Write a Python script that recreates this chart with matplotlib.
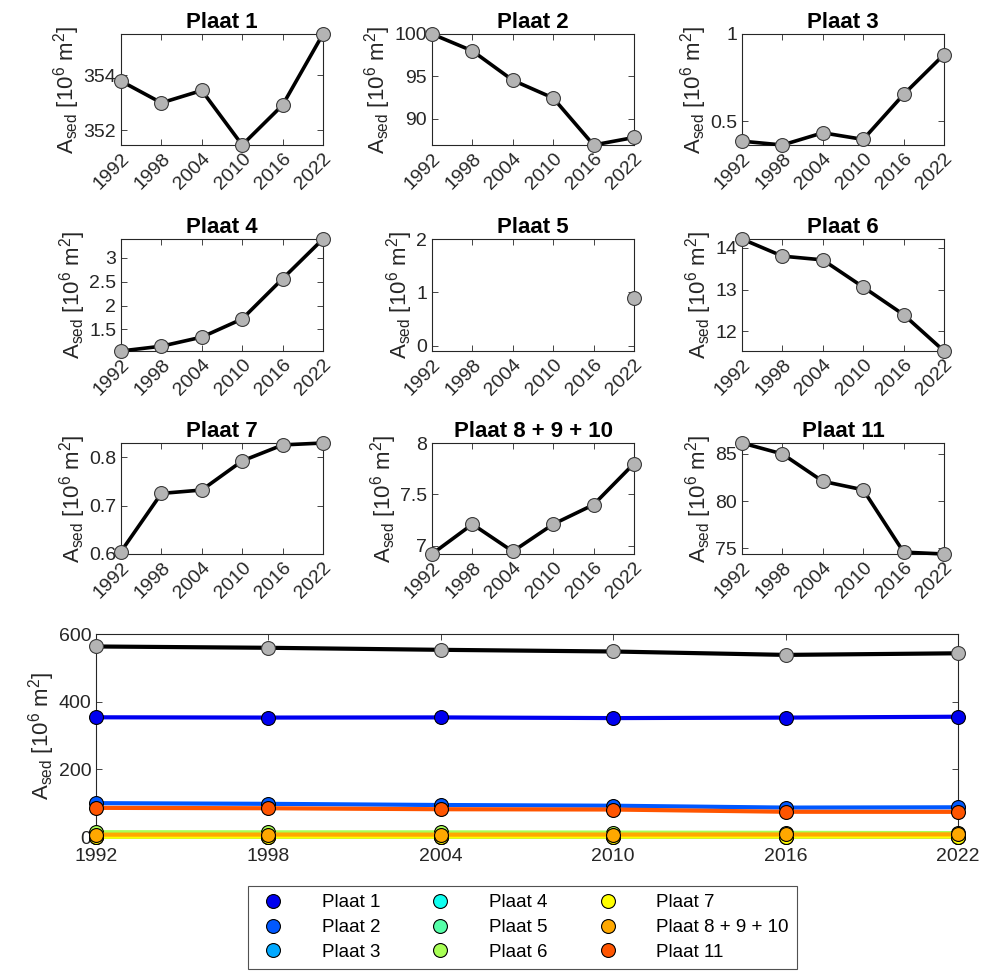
import numpy as np
import matplotlib.pyplot as plt
from matplotlib.lines import Line2D
from matplotlib.ticker import FuncFormatter

# =========================================================
# DATA (A_sed in 10^6 m^2)
# =========================================================
jaren = [1992, 1998, 2004, 2010, 2016, 2022]
namen = ["Plaat 1", "Plaat 2", "Plaat 3", "Plaat 4", "Plaat 5", "Plaat 6",
         "Plaat 7", "Plaat 8 + 9 + 10", "Plaat 11"]

plaat_1 = [353.79, 353.0, 353.45, 351.47, 352.92, 355.5]
plaat_2 = [100.0, 98.0, 94.53, 92.43, 86.88, 87.77]
plaat_3 = [0.385, 0.363, 0.433, 0.395, 0.653, 0.882]
plaat_4 = [1.05, 1.15, 1.34, 1.72, 2.56, 3.39]
plaat_5 = [np.nan, np.nan, np.nan, np.nan, np.nan, 0.90]
plaat_6 = [14.21, 13.80, 13.71, 13.06, 12.40, 11.53]
plaat_7 = [0.605, 0.725, 0.732, 0.792, 0.825, 0.829]
plaat_8_9_10 = [6.92, 7.21, 6.945, 7.21, 7.40, 7.80]
plaat_11 = [86.16, 85.0, 82.1, 81.2, 74.6, 74.4]

yticks_1 = [352, 354]
yticks_2 = [90, 95, 100]
yticks_3 = [0.5, 1]
yticks_4 = [1.5, 2, 2.5, 3]
yticks_5 = [0, 1, 2]
yticks_6 = [12, 13, 14]
yticks_7 = [0.6, 0.7, 0.8]
yticks_8 = [7, 7.5, 8]
yticks_11 = [75, 80, 85]
yticks_totaal = [0, 200, 400, 600]

reeksen = [plaat_1, plaat_2, plaat_3, plaat_4, plaat_5, plaat_6,
           plaat_7, plaat_8_9_10, plaat_11]
yticks = [yticks_1, yticks_2, yticks_3, yticks_4, yticks_5, yticks_6,
          yticks_7, yticks_8, yticks_11]
totaal = np.nansum(np.array(reeksen, dtype=float), axis=0)

# =========================================================
# STIJL
# =========================================================
plt.rcParams["font.family"] = ["Liberation Sans", "DejaVu Sans"]
plt.rcParams["mathtext.default"] = "regular"

kleuren = ["#0000f0", "#0058ff", "#00a8ff", "#10fff0", "#55ffa8",
           "#a8ff55", "#ffff00", "#ffa800", "#ff5500"]
grijs_as = "#262626"
ylabel = r"A$_{sed}$ [10$^{6}$ m$^{2}$]"

W, H = 985, 972
fig = plt.figure(figsize=(W / 100, H / 100), dpi=100)


def as_px(x0, y0, x1, y1):
    return fig.add_axes([x0 / W, 1 - y1 / H, (x1 - x0) / W, (y1 - y0) / H])


def stijl_as(ax):
    for s in ax.spines.values():
        s.set_color(grijs_as)
        s.set_linewidth(0.8)
    ax.tick_params(direction="in", top=True, right=True, colors=grijs_as,
                   labelsize=14, length=4, width=0.6)


fmt_g = FuncFormatter(lambda v, p: f"{v:g}")

kolommen = [(121, 323), (432, 634), (742, 944)]
rijen = [(34, 145), (239, 351), (443, 554)]

for i, (naam, waarden) in enumerate(zip(namen, reeksen)):
    x0, x1 = kolommen[i % 3]
    y0, y1 = rijen[i // 3]
    ax = as_px(x0, y0, x1, y1)
    ax.plot(jaren, waarden, color="black", linewidth=2.6, marker="o",
            markersize=10, markerfacecolor="#b4b4b4", markeredgecolor="#3a3a3a",
            markeredgewidth=0.8, clip_on=False, zorder=3)
    ax.set_xlim(1992, 2022)
    ax.set_xticks(jaren)
    ax.set_xticklabels([str(j) for j in jaren], rotation=45, ha="right",
                       rotation_mode="anchor")
    w = np.array(waarden, dtype=float)
    lo, hi = np.nanmin(w), np.nanmax(w)
    if naam == "Plaat 3":
        hi = 1.0
    if naam == "Plaat 5":
        lo, hi = -0.1, 2.0
    ax.set_ylim(lo, hi)
    ax.set_yticks(yticks[i])
    ax.yaxis.set_major_formatter(fmt_g)
    ax.set_title(naam, fontsize=16, fontweight="bold", pad=4)
    ax.set_ylabel(ylabel, fontsize=16, color=grijs_as, labelpad=1)
    stijl_as(ax)

# =========================================================
# TOTAAL-PANEEL
# =========================================================
ax = as_px(96, 634, 958, 837)
for naam, waarden, kl in zip(namen, reeksen, kleuren):
    ax.plot(jaren, waarden, color=kl, linewidth=3, marker="o", markersize=10,
            markerfacecolor=kl, markeredgecolor="black", markeredgewidth=0.8,
            clip_on=False, zorder=3)
ax.plot(jaren, totaal, color="black", linewidth=3, marker="o", markersize=10,
        markerfacecolor="#b4b4b4", markeredgecolor="#3a3a3a",
        markeredgewidth=0.8, clip_on=False, zorder=4)
ax.set_xlim(1992, 2022)
ax.set_xticks(jaren)
ax.set_ylim(0, 600)
ax.set_yticks(yticks_totaal)
ax.set_ylabel(ylabel, fontsize=16, color=grijs_as, labelpad=1)
stijl_as(ax)
ax.tick_params(axis="x", pad=8)

# =========================================================
# LEGENDA
# =========================================================
handles = [Line2D([], [], linestyle="none", marker="o", markersize=10,
                  markerfacecolor=kl, markeredgecolor="black",
                  markeredgewidth=0.8) for kl in kleuren]
leg = fig.legend(handles, namen, ncol=3, loc="center",
                 bbox_to_anchor=((247 + 798) / 2 / W, 1 - (885 + 970) / 2 / H),
                 fontsize=13.5, frameon=True, fancybox=False, edgecolor="#262626",
                 handletextpad=1.7, columnspacing=2.3, labelspacing=0.4,
                 borderpad=0.45, handlelength=1.8)
leg.get_frame().set_linewidth(0.8)

fig.savefig("out.png", dpi=100)
